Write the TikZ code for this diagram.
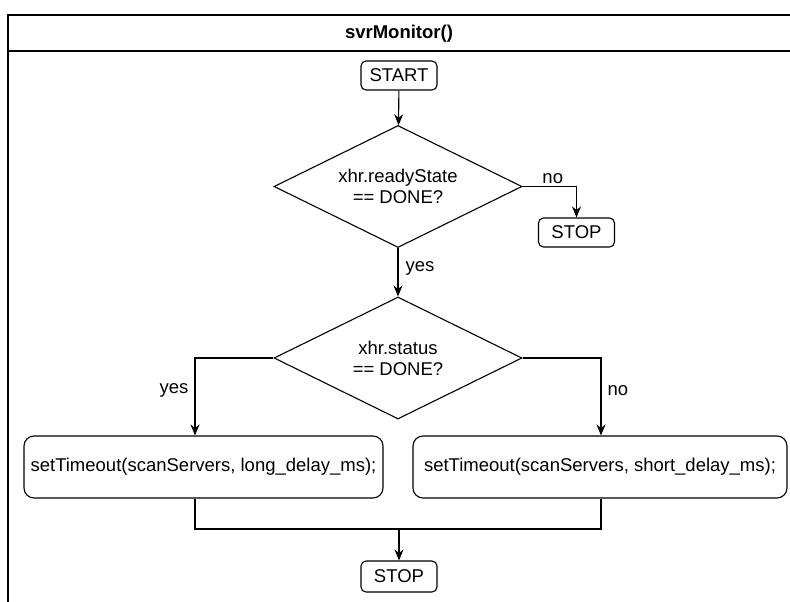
\documentclass[tikz,border=0pt]{standalone}
\usepackage{fontspec}
\setmainfont{Liberation Sans}
\usetikzlibrary{arrows.meta,shapes.geometric,positioning}

\begin{document}
\begin{tikzpicture}[x=1pt, y=-1pt, line width=1.1pt,
                    every node/.style={font=\fontsize{18.5}{21}\selectfont},
                    term/.style={draw, rounded corners=5pt, minimum width=76pt, minimum height=29pt, inner sep=0pt},
                    test/.style={draw, diamond, aspect=2, minimum width=248pt, minimum height=122pt, inner sep=0pt, align=center},
                    call/.style={draw, rounded corners=10pt, minimum height=62pt, inner sep=0pt},
                    lbl/.style={draw=none, inner sep=2pt},
                    >={Stealth[length=11pt,width=9pt]}]

\clip (0,0) rectangle (790,602);
% frame with title band
\draw (8,15) rectangle (810,620);
\draw (8,51) -- (810,51);
\node[font=\fontsize{18.5}{21}\selectfont\bfseries] (title) at (399,34) {svrMonitor()};

\node[term] (start) at (399,75.5) {START};
\node[test] (ready) at (398,186.5) {xhr.readyState\\== DONE?};
\node[term] (stopA) at (576.5,232.5) {STOP};
\node[test] (status) at (398,358) {xhr.status\\== DONE?};
\node[call, minimum width=359pt] (longT) at (203.5,467) {setTimeout(scanServers, long\_delay\_ms);};
\node[call, minimum width=374pt] (shortT) at (600,467) {setTimeout(scanServers, short\_delay\_ms);};
\node[term, minimum height=31pt] (stopB) at (399,576.5) {STOP};
\coordinate (join) at (399,529);

\draw[->] (start) -- (ready);
\draw[->] (ready.east) -| node[lbl, pos=0.28, above] (no1) {no} (stopA.north);
\draw[->] (ready.south) -- node[lbl, pos=0.42, right=5pt] (yes1) {yes} (status.north);
\draw[->] (status.west) -| node[lbl, pos=0.71, left=4pt] (yes2) {yes} ([xshift=-8.5pt]longT.north);
\draw[->] (status.east) -| node[lbl, pos=0.71, right=4pt] (no2) {no} ([xshift=1pt]shortT.north);
\draw ([xshift=-8.5pt]longT.south) |- (join) -| ([xshift=1pt]shortT.south);
\draw[->] (join) -- (stopB);
\end{tikzpicture}
\end{document}
